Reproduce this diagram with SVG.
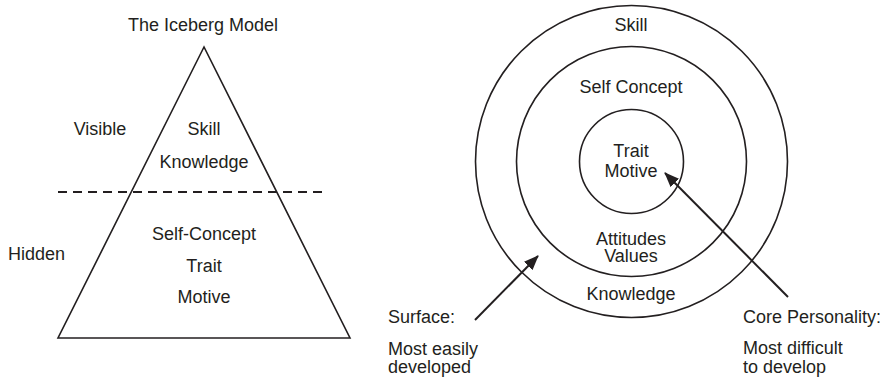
<svg xmlns="http://www.w3.org/2000/svg" width="891" height="384" viewBox="0 0 891 384">
  <style>
    text { font-family: "Liberation Sans", Arial, Helvetica, sans-serif; font-size: 18px; fill: #231f20; }
    .c { text-anchor: middle; }
    .shape { fill: none; stroke: #231f20; stroke-width: 1.6; }
    .dash { stroke: #231f20; stroke-width: 2; stroke-dasharray: 9 6; fill: none; }
    .arrow { stroke: #231f20; stroke-width: 2; fill: none; marker-end: url(#head); }
  </style>
  <defs>
    <marker id="head" viewBox="0 0 15 12" refX="14" refY="6" markerWidth="15" markerHeight="12" markerUnits="userSpaceOnUse" orient="auto">
      <path d="M0,0 L15,6 L0,12 Z" fill="#231f20"/>
    </marker>
  </defs>
  <rect width="891" height="384" fill="#ffffff"/>

  <!-- Iceberg model -->
  <g id="iceberg">
    <text class="c" x="203" y="31">The Iceberg Model</text>
    <polygon class="shape" points="204,47 58,338 350,338"/>
    <line class="dash" x1="58" y1="192" x2="328" y2="192"/>
    <text class="c" x="100" y="135">Visible</text>
    <text class="c" x="204" y="135">Skill</text>
    <text class="c" x="204" y="168">Knowledge</text>
    <text x="8" y="260">Hidden</text>
    <text class="c" x="204" y="240">Self-Concept</text>
    <text class="c" x="204" y="272">Trait</text>
    <text class="c" x="204" y="303">Motive</text>
  </g>

  <!-- Concentric competency circles -->
  <g id="outer-ring">
    <circle class="shape" cx="631.5" cy="161.5" r="156"/>
    <text class="c" x="631" y="31">Skill</text>
    <text class="c" x="631" y="300">Knowledge</text>
  </g>
  <g id="middle-ring">
    <circle class="shape" cx="631.5" cy="161.5" r="115"/>
    <text class="c" x="631" y="93">Self Concept</text>
    <text class="c" x="631" y="245">Attitudes</text>
    <text class="c" x="631" y="262">Values</text>
  </g>
  <g id="core">
    <circle class="shape" cx="631.5" cy="161.5" r="52"/>
    <text class="c" x="631" y="157">Trait</text>
    <text class="c" x="631" y="177">Motive</text>
  </g>

  <g id="surface-label">
    <text x="388" y="323">Surface:</text>
    <text x="388" y="355">Most easily</text>
    <text x="388" y="373">developed</text>
  </g>
  <g id="core-label">
    <text x="743" y="323">Core Personality:</text>
    <text x="743" y="354">Most difficult</text>
    <text x="743" y="373">to develop</text>
  </g>

  <g id="connectors">
    <line class="arrow" x1="475" y1="320" x2="538" y2="256"/>
    <line class="arrow" x1="788" y1="297" x2="665" y2="173"/>
  </g>
</svg>
